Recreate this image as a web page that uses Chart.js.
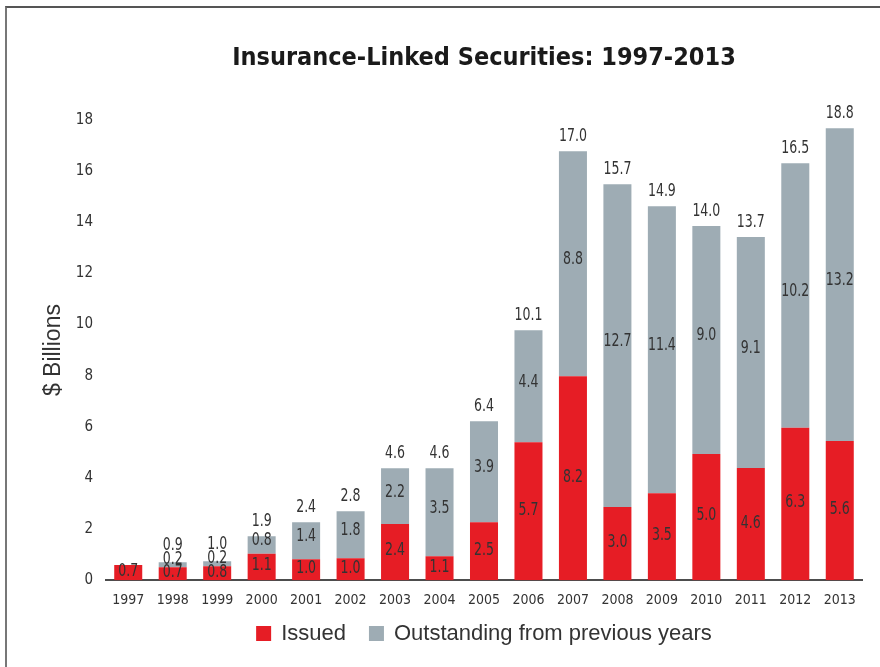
<!DOCTYPE html>
<html>
<head>
<meta charset="utf-8">
<script src="https://cdn.jsdelivr.net/npm/chart.js@4.4.1/dist/chart.umd.min.js"></script>
<style>
  html, body { margin: 0; padding: 0; background: #fff; }
  #wrap { position: relative; width: 880px; height: 667px; }
  #frame { position: absolute; left: 5px; top: 6px; right: -4px; bottom: -4px; border-top: 2px solid #555; border-left: 2px solid #777; }
  canvas { position: absolute; left: 0; top: 0; }
</style>
</head>
<body>
<div id="wrap">
  <div id="frame"></div>
  <canvas id="ilsChart" width="880" height="667"></canvas>
</div>
<script>
const years = ['1997', '1998', '1999', '2000', '2001', '2002', '2003', '2004', '2005',
               '2006', '2007', '2008', '2009', '2010', '2011', '2012', '2013'];

// bar heights as drawn in the picture ($ billions)
const issued = [0.59, 0.51, 0.55, 1.03, 0.82, 0.86, 2.20, 0.94, 2.27,
                5.40, 7.98, 2.86, 3.40, 4.94, 4.39, 5.96, 5.44];
const outstanding = [0, 0.19, 0.19, 0.69, 1.45, 1.84, 2.18, 3.44, 3.95,
                     4.38, 8.80, 12.63, 11.23, 8.91, 9.03, 10.35, 12.24];

// printed value labels
const issuedLabels = ['0.7', '0.7', '0.8', '1.1', '1.0', '1.0', '2.4', '1.1', '2.5',
                      '5.7', '8.2', '3.0', '3.5', '5.0', '4.6', '6.3', '5.6'];
const outstandingLabels = ['', '0.2', '0.2', '0.8', '1.4', '1.8', '2.2', '3.5', '3.9',
                           '4.4', '8.8', '12.7', '11.4', '9.0', '9.1', '10.2', '13.2'];
const totalLabels = ['', '0.9', '1.0', '1.9', '2.4', '2.8', '4.6', '4.6', '6.4',
                     '10.1', '17.0', '15.7', '14.9', '14.0', '13.7', '16.5', '18.8'];

const yTicks = [0, 2, 4, 6, 8, 10, 12, 14, 16, 18];

const narrow = "'DejaVu Sans Condensed', 'Liberation Sans', sans-serif";
const plain = "'Liberation Sans', Arial, sans-serif";
const RED = '#e61d25';
const GRAY = '#9eacb4';

// condensed text: squeeze horizontally a bit
function squeezeText(ctx, text, x, y) {
    ctx.save();
    ctx.translate(x, y);
    ctx.scale(0.82, 1);
    ctx.fillText(text, 0, 0);
    ctx.restore();
}

const valueLabels = {
    id: 'valueLabels',
    afterDatasetsDraw(chart) {
        const ctx = chart.ctx;
        const redBars = chart.getDatasetMeta(0).data;
        const grayBars = chart.getDatasetMeta(1).data;
        ctx.save();
        ctx.font = '17px ' + narrow;
        ctx.fillStyle = '#333';
        ctx.textAlign = 'center';
        ctx.textBaseline = 'middle';
        for (let i = 0; i < years.length; i++) {
            const r = redBars[i];
            const g = grayBars[i];
            squeezeText(ctx, issuedLabels[i], r.x, (r.y + r.base) / 2 - 1);
            let top = outstanding[i] > 0 ? g.y : r.y;
            let totalY = top - 15;
            if (outstandingLabels[i]) {
                const h = g.base - g.y;
                if (h < 16) {
                    squeezeText(ctx, outstandingLabels[i], g.x, g.y - 3);
                    totalY = g.y - 17;
                } else {
                    squeezeText(ctx, outstandingLabels[i], g.x, (g.y + g.base) / 2 - 4);
                }
            }
            if (totalLabels[i]) {
                squeezeText(ctx, totalLabels[i], r.x, totalY);
            }
        }
        ctx.restore();
    }
};

const bottomLegend = {
    id: 'bottomLegend',
    afterDraw(chart) {
        const ctx = chart.ctx;
        const area = chart.chartArea;
        const sets = chart.data.datasets;
        const box = 15, gap = 10, itemGap = 23, y = 634;
        ctx.save();
        ctx.font = '22px ' + plain;
        ctx.textBaseline = 'middle';
        ctx.textAlign = 'left';
        let total = 0;
        sets.forEach((ds, i) => {
            total += box + gap + ctx.measureText(ds.label).width;
            if (i < sets.length - 1) total += itemGap;
        });
        let x = (area.left + area.right) / 2 - total / 2;
        sets.forEach(ds => {
            ctx.fillStyle = ds.backgroundColor;
            ctx.fillRect(x, y - 8, box, box);
            x += box + gap;
            ctx.fillStyle = '#333';
            ctx.fillText(ds.label, x, y);
            x += ctx.measureText(ds.label).width + itemGap;
        });
        ctx.restore();
    }
};

new Chart(document.getElementById('ilsChart'), {
    type: 'bar',
    data: {
        labels: years,
        datasets: [
            {
                label: 'Issued',
                data: issued,
                backgroundColor: RED,
                barPercentage: 0.63,
                categoryPercentage: 1.0
            },
            {
                label: 'Outstanding from previous years',
                data: outstanding,
                backgroundColor: GRAY,
                barPercentage: 0.63,
                categoryPercentage: 1.0
            }
        ]
    },
    options: {
        responsive: false,
        animation: false,
        layout: {
            padding: { left: 40, right: 18, top: 43, bottom: 46 }
        },
        plugins: {
            title: {
                display: true,
                fullSize: false,
                text: 'Insurance-Linked Securities: 1997-2013',
                color: '#1a1a1a',
                font: { family: narrow, size: 25, weight: 'bold' },
                padding: { top: 0, bottom: 47 }
            },
            legend: { display: false },
            tooltip: { enabled: false }
        },
        scales: {
            x: {
                stacked: true,
                grid: { display: false, drawTicks: false },
                border: { display: true, color: '#4d4d4d', width: 2 },
                ticks: {
                    color: '#333',
                    font: { family: narrow, size: 14 },
                    padding: 12
                }
            },
            y: {
                stacked: true,
                min: 0,
                max: 18,
                afterBuildTicks: axis => {
                    axis.ticks = yTicks.map(v => ({ value: v }));
                },
                afterFit: axis => {
                    axis.width = 66;
                },
                grid: { display: false, drawTicks: false },
                border: { display: false },
                title: {
                    display: true,
                    text: '$ Billions',
                    color: '#333',
                    font: { family: plain, size: 23 },
                    padding: { top: 0, bottom: 0 }
                },
                ticks: {
                    color: '#333',
                    font: { family: narrow, size: 15 },
                    padding: 13
                }
            }
        }
    },
    plugins: [valueLabels, bottomLegend]
});
</script>
</body>
</html>
